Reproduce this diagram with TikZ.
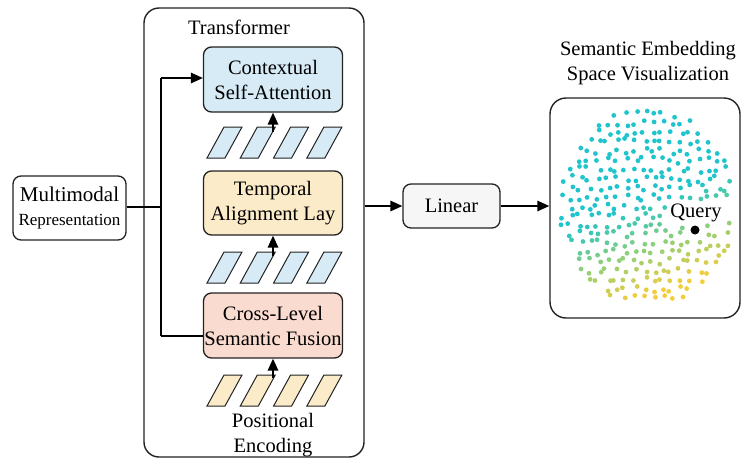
\documentclass[tikz,border=0pt]{standalone}
\usepackage{fontspec}
\setmainfont{Liberation Serif}
\usetikzlibrary{arrows.meta}
\definecolor{cyn}{HTML}{20C4CC}
\definecolor{grn}{HTML}{8ED07A}
\definecolor{yel}{HTML}{F2CD3E}
\definecolor{ctxfill}{HTML}{D7EBF6}
\definecolor{tmpfill}{HTML}{FCEBC9}
\definecolor{crsfill}{HTML}{FADBD0}
\definecolor{linfill}{HTML}{F6F6F6}
\definecolor{edge}{HTML}{222222}
\begin{document}
\begin{tikzpicture}[x=1pt,y=-1pt,
  txt/.style={font=\fontsize{20.5}{25}\selectfont},
  blk/.style={draw=edge,line width=1.3pt,rounded corners=8,align=center,txt,inner sep=0pt},
  ln/.style={line width=1.5pt,draw=black},
  arr/.style={ln,-{Triangle[length=12pt,width=10.5pt]}},
  para/.style={draw=edge,line width=1pt}]
\useasboundingbox (0,0) rectangle (742,467);
% Transformer frame
\node[draw=edge,line width=1.4pt,rounded corners=15,minimum width=220,minimum height=449,inner sep=0pt] (tf) at (254,232.5) {};
\node[txt] (tftitle) at (239,27) {Transformer};
% blocks
\node[blk,fill=ctxfill,minimum width=139,minimum height=65] (ctx) at (273,79.5) {Contextual\\Self-Attention};
\node[blk,fill=tmpfill,minimum width=139,minimum height=64] (tmp) at (273,203) {Temporal\\Alignment Lay};
\node[blk,fill=crsfill,minimum width=139,minimum height=65] (crs) at (273,325.5) {Cross-Level\\Semantic Fusion};
% token rows
\foreach \yb/\cl in {158/ctxfill,283/ctxfill,406/tmpfill}{
  \foreach \k in {0,1,2,3}{
    \filldraw[para,fill=\cl] ({207+33.3*\k},\yb) -- ++(18,0) -- ++(17,-31) -- ++(-18,0) -- cycle;
  }
}
\coordinate (r1) at (273,132);
\coordinate (r2) at (273,256);
\coordinate (r3) at (273,378);
\draw[arr] (r1) -- (ctx.south);
\draw[arr] (r2) -- (tmp.south);
\draw[arr] (r3) -- (crs.south);
\node[txt,align=center] (pe) at (273,435) {Positional\\Encoding};
% input
\node[blk,fill=white,minimum width=113,minimum height=64] (mm) at (69.5,208) {\fontsize{21}{25}\selectfont Multimodal\\[-1pt]{\fontsize{17}{20}\selectfont Representation}};
\coordinate (j) at (161,207);
\coordinate (jt) at (161,78);
\coordinate (jb) at (161,336);
\draw[ln] (mm.east |- j) -- (j);
\draw[ln] (jt) -- (jb);
\draw[arr] (jt) -- (ctx.west |- jt);
\draw[ln] (jb) -- (crs.west |- jb);
% linear
\node[blk,fill=linfill,minimum width=97,minimum height=44] (lin) at (451.5,206) {Linear};
\draw[arr] (tf.east |- lin.west) -- (lin.west);
% embedding space
\node[txt,align=center] (embtitle) at (648,63) {Semantic Embedding\\Space Visualization};
\node[draw=edge,line width=1.4pt,rounded corners=16,minimum width=190,minimum height=220,inner sep=0pt] (emb) at (645,208) {};
\draw[arr] (lin.east) -- (emb.west |- lin.east);
\pgfmathsetseed{4242}
\foreach \gx in {0,...,20}{
  \foreach \gy in {0,...,22}{
    \pgfmathsetmacro\px{552+\gx*9.2+3.4*rand}
    \pgfmathsetmacro\py{105+\gy*9.2+3.4*rand}
    \pgfmathsetmacro\dd{((\px-647)/88)^2+((\py-207)/99)^2}
    \pgfmathsetmacro\dq{((\px-695)/10)^2+((\py-230)/10)^2}
    \pgfmathtruncatemacro\inside{(\dd<1)&&!((\px>666)&&(\px<729)&&(\py>199)&&(\py<224))&&(\dq>0.6)}
    \ifnum\inside=1
      \pgfmathsetmacro\tt{max(0,min(1,(\py-200+0.35*(\px-648))/95))}
      \pgfmathtruncatemacro\seg{\tt>0.5}
      \pgfmathtruncatemacro\pa{min(100,200*\tt)}
      \pgfmathtruncatemacro\pb{max(0,200*\tt-100)}
      \ifnum\seg=0 \colorlet{dotc}{grn!\pa!cyn}\else\colorlet{dotc}{yel!\pb!grn}\fi
      \fill[dotc] (\px,\py) circle (2.4);
    \fi
  }
}
\node[txt,inner sep=0pt] (q) at (696,213) {Query};
\fill[black] (695,230) circle (4.5);
\end{tikzpicture}
\end{document}
